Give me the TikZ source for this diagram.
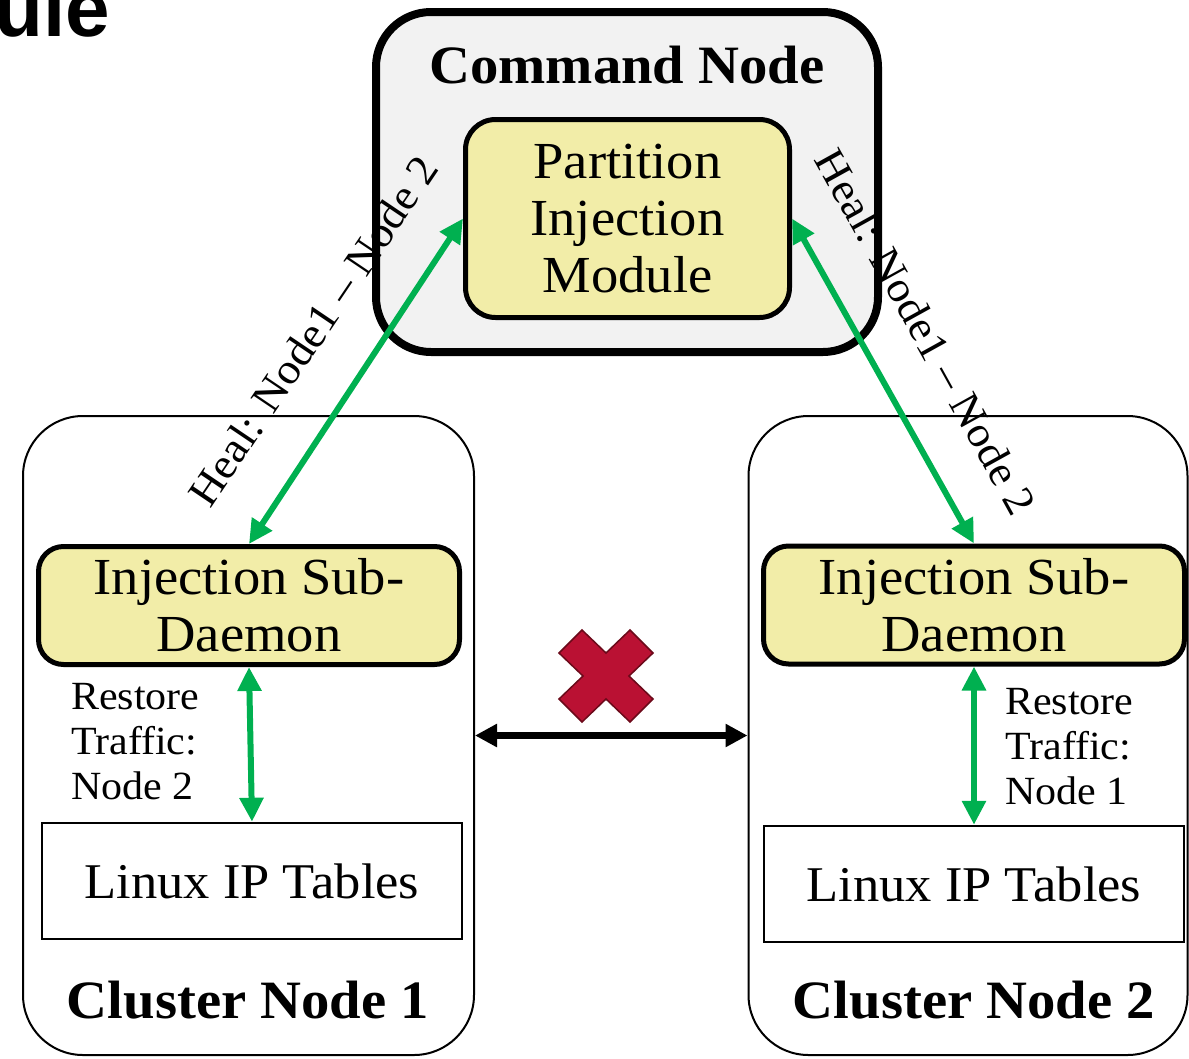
\documentclass[tikz,border=0pt]{standalone}
\usepackage{fontspec}
\setmainfont{Liberation Serif}[FakeStretch=1.05]
\newfontfamily\slidefont{Liberation Sans}
\usetikzlibrary{arrows.meta}
\definecolor{healgreen}{HTML}{00B050}
\definecolor{modyellow}{HTML}{F2EDA8}
\definecolor{cmdgray}{HTML}{F2F2F2}
\definecolor{crossred}{HTML}{BA1133}
\definecolor{crossedge}{HTML}{6B0A1A}
\tikzset{
  cmdbox/.style={draw, line width=8pt, rounded corners=55pt, fill=cmdgray, minimum width=502pt, minimum height=340pt},
  modbox/.style={draw, line width=5pt, rounded corners=30pt, fill=modyellow, align=center, font=\fontsize{52}{57}\selectfont},
  clusterbox/.style={draw, line width=2pt, rounded corners=60pt, minimum height=639pt},
  tablebox/.style={draw, line width=2.5pt, minimum width=420pt, minimum height=116pt, font=\fontsize{50}{57}\selectfont},
  boxtitle/.style={font=\fontsize{54}{60}\selectfont\bfseries},
  restorelbl/.style={align=left, anchor=west, inner sep=0pt, font=\fontsize{40}{45}\selectfont},
  heallbl/.style={font=\fontsize{43}{48}\selectfont},
  heal/.style={draw=healgreen, line width=6pt, {Triangle[width=23pt,length=24pt]}-{Triangle[width=23pt,length=24pt]}},
  link/.style={draw=black, line width=7pt, {Triangle[width=22pt,length=22pt]}-{Triangle[width=22pt,length=22pt]}}
}
\begin{document}
\begin{tikzpicture}[x=1pt,y=-1pt]
\useasboundingbox (0,0) rectangle (1189,1058);
\node[anchor=base east, inner sep=0pt, font=\fontsize{80}{80}\slidefont\bfseries] (slidetitle) at (110,36) {ule}; % cut off slide title

% command node
\node[cmdbox] (cmd) at (627,182) {};
\node[boxtitle] (cmdtitle) at (627,65) {Command Node};
\node[modbox, minimum width=324pt, minimum height=198pt] (pim) at (627.5,218.5) {Partition\\Injection\\Module};

% cluster nodes
\node[clusterbox, minimum width=451pt] (cl1) at (248.5,735.5) {};
\node[clusterbox, minimum width=439pt] (cl2) at (968,735.5) {};
\node[boxtitle] (cl1title) at (248,1000) {Cluster Node 1};
\node[boxtitle] (cl2title) at (974,1000) {Cluster Node 2};
\foreach \n/\x/\y in {1/249/605.5, 2/974/605} % sub-daemons
  \node[modbox, minimum width=421pt, minimum height=118pt, rounded corners=25pt] (isd\n) at (\x,\y) {Injection Sub-\\Daemon};
\node[tablebox] (ipt1) at (252,881) {Linux IP Tables};
\node[tablebox] (ipt2) at (974,884) {Linux IP Tables};
\node[restorelbl] (rst1) at (71,742) {Restore\\Traffic:\\Node 2};
\node[restorelbl] (rst2) at (1005,747) {Restore\\Traffic:\\Node 1};

% connectors
\draw[heal] (isd1.north) -- (pim.west);
\draw[heal] (pim.east) -- (isd2.north);
\foreach \n in {1,2}
  \draw[heal] (isd\n.south) -- (ipt\n.north);
\draw[link] (cl1.east) -- (cl2.west);
\node[heallbl, rotate=56] (heal1) at (313,331) {Heal: Node1 – Node 2};
\node[heallbl, rotate=-61] (heal2) at (926,332) {Heal: Node1 – Node 2};

% broken link cross
\filldraw[fill=crossred, draw=crossedge, line width=1.5pt, shift={(606,676)}]
  (0,-23) -- (24,-46) -- (47,-23) -- (23,0) -- (47,23) -- (24,46) -- (0,23)
  -- (-24,46) -- (-47,23) -- (-23,0) -- (-47,-23) -- (-24,-46) -- cycle;
\end{tikzpicture}
\end{document}
